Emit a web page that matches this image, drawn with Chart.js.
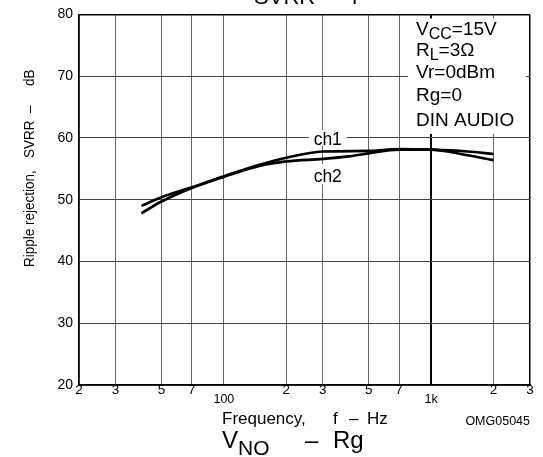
<!DOCTYPE html>
<html>
<head>
<meta charset="utf-8">
<script src="https://cdn.jsdelivr.net/npm/chart.js@4.4.1/dist/chart.umd.min.js"></script>
<style>
  html, body { margin: 0; padding: 0; background: #fff; }
  #chart { display: block; }
</style>
</head>
<body>
<canvas id="chart" width="543" height="457"></canvas>
<script>
const FONT = '"Liberation Sans", Arial, Helvetica, sans-serif';

// values (Hz -> dB)
const freqCh1 = [40, 50, 70, 100, 150, 200, 300, 500, 700, 1000, 1500, 2000];
const svrrCh1 = [49.0, 50.4, 52.0, 53.8, 55.7, 56.8, 57.8, 57.9, 58.2, 58.1, 57.8, 57.4];
const freqCh2 = [40, 50, 70, 100, 150, 200, 300, 400, 500, 700, 1000, 1500, 2000];
const svrrCh2 = [47.8, 49.7, 51.9, 53.7, 55.5, 56.2, 56.6, 57.0, 57.5, 58.1, 58.1, 57.2, 56.4];

const xTickValues = [20, 30, 50, 70, 100, 200, 300, 500, 700, 1000, 2000, 3000];
const xTickLabels = ['2', '3', '5', '7', '100', '2', '3', '5', '7', '1k', '2', '3'];
const yMin = 20, yMax = 80, yStep = 10;

const toPoints = (xs, ys) => xs.map((x, i) => ({ x, y: ys[i] }));

// text with a lowered, smaller part (V_CC, R_L, V_NO)
function subText(ctx, x, y, main, sub, rest, size, subSize, drop) {
  ctx.font = `${size}px ${FONT}`;
  ctx.fillText(main, x, y);
  x += ctx.measureText(main).width;
  ctx.font = `${subSize}px ${FONT}`;
  ctx.fillText(sub, x, y + drop);
  x += ctx.measureText(sub).width;
  if (rest) {
    ctx.font = `${size}px ${FONT}`;
    ctx.fillText(rest, x, y);
  }
}

const chartText = {
  id: 'chartText',
  beforeDatasetsDraw(chart) {
    const ctx = chart.ctx;
    const area = chart.chartArea;
    const xs = chart.scales.x, ys = chart.scales.y;
    const y60 = ys.getPixelForValue(60);
    const cx = xs.getPixelForValue(300) + 5;

    ctx.save();
    // white panels over the grid
    ctx.fillStyle = '#fff';
    ctx.fillRect(408, area.top + 4, area.right - 4 - 408, y60 - 4 - (area.top + 4));
    ctx.fillRect(cx - 19, y60 - 8, 38, 16);
    ctx.fillRect(cx - 19, y60 + 26, 38, 20);

    ctx.fillStyle = '#000';
    ctx.textBaseline = 'alphabetic';
    ctx.textAlign = 'left';
    const tx = 416;
    subText(ctx, tx, area.top + 21, 'V', 'CC', '=15V', 19, 16, 4);
    subText(ctx, tx, area.top + 42, 'R', 'L', '=3Ω', 19, 16, 4);
    ctx.font = `19px ${FONT}`;
    ctx.fillText('Vr=0dBm', tx, area.top + 64);
    ctx.fillText('Rg=0', tx, area.top + 87);
    ctx.fillText('DIN AUDIO', tx, area.top + 111.5);

    ctx.textAlign = 'center';
    ctx.font = `17.5px ${FONT}`;
    ctx.fillText('ch1', cx, y60 + 7.5);
    ctx.fillText('ch2', cx, y60 + 44.5);
    ctx.restore();
  },
  afterDraw(chart) {
    const ctx = chart.ctx;
    ctx.save();
    ctx.fillStyle = '#000';
    ctx.textBaseline = 'alphabetic';

    // title of this graph, cut off at the top edge
    ctx.textAlign = 'center';
    ctx.font = `22px ${FONT}`;
    ctx.fillText('SVRR  –  f', 306, 3.5);

    // x axis title
    ctx.textAlign = 'left';
    ctx.font = `17px ${FONT}`;
    ctx.fillText('Frequency,', 222, 424);
    ctx.fillText('f', 333, 424);
    ctx.fillText('–', 349, 424);
    ctx.fillText('Hz', 367, 424);

    ctx.textAlign = 'right';
    ctx.font = `12.5px ${FONT}`;
    ctx.fillText('OMG05045', 530, 425);

    // title of the next graph
    ctx.textAlign = 'left';
    subText(ctx, 222, 448, 'V', 'NO', '', 24, 21, 7);
    ctx.font = `24px ${FONT}`;
    ctx.fillText('–', 305, 448);
    ctx.fillText('Rg', 333, 448);

    // y axis title, rotated and a little condensed like the original
    const squeeze = 0.87;
    ctx.rotate(-Math.PI / 2);
    ctx.scale(squeeze, 1);
    ctx.font = `15.5px ${FONT}`;
    ctx.fillText('Ripple rejection,', -267 / squeeze, 34);
    ctx.fillText('SVRR', -158 / squeeze, 34);
    ctx.fillText('–', -113 / squeeze, 34);
    ctx.fillText('dB', -86 / squeeze, 34);
    ctx.restore();
  }
};

const isDecade = (c) => c.tick && (c.tick.value === 100 || c.tick.value === 1000);

new Chart(document.getElementById('chart'), {
  type: 'scatter',
  data: {
    datasets: [
      {
        label: 'ch1',
        data: toPoints(freqCh1, svrrCh1),
        showLine: true,
        borderColor: '#000',
        borderWidth: 2.7,
        pointRadius: 0,
        cubicInterpolationMode: 'monotone',
        fill: false,
      },
      {
        label: 'ch2',
        data: toPoints(freqCh2, svrrCh2),
        showLine: true,
        borderColor: '#000',
        borderWidth: 2.7,
        pointRadius: 0,
        cubicInterpolationMode: 'monotone',
        fill: false,
      },
    ],
  },
  options: {
    responsive: false,
    animation: false,
    devicePixelRatio: 1,
    layout: { padding: { top: 11, right: 13, left: 0, bottom: 0 } },
    plugins: {
      legend: { display: false },
      tooltip: { enabled: false },
      title: { display: false },
    },
    scales: {
      x: {
        type: 'logarithmic',
        min: 20,
        max: 3000,
        afterBuildTicks: (axis) => { axis.ticks = xTickValues.map((v) => ({ value: v })); },
        afterFit: (axis) => { axis.height = 72; },
        border: { display: true, color: '#000', width: 1.5 },
        grid: {
          drawTicks: false,
          color: (c) => (c.tick && (c.tick.value === 1000 || c.tick.value === 3000)) ? '#000' : '#666',
          lineWidth: (c) => {
            if (!c.tick) return 1;
            if (c.tick.value === 1000) return 2;
            if (c.tick.value === 3000) return 1.5;
            return 1;
          },
        },
        ticks: {
          autoSkip: false,
          maxRotation: 0,
          padding: 0,
          color: '#000',
          font: (c) => isDecade(c)
            ? { family: FONT, size: 12.5, lineHeight: 2.35 }
            : { family: FONT, size: 13.5, lineHeight: 0.72 },
          callback: (v, i) => xTickLabels[i],
        },
      },
      y: {
        min: yMin,
        max: yMax,
        afterFit: (axis) => { axis.width = 79; },
        border: { display: true, color: '#000', width: 1.5 },
        grid: {
          drawTicks: false,
          color: (c) => (c.tick && c.tick.value === yMax) ? '#000' : '#444',
          lineWidth: (c) => (c.tick && c.tick.value === yMax) ? 1.5 : 1,
        },
        ticks: {
          stepSize: yStep,
          padding: 6,
          color: '#000',
          font: { family: FONT, size: 14 },
        },
      },
    },
  },
  plugins: [chartText],
});
</script>
</body>
</html>
